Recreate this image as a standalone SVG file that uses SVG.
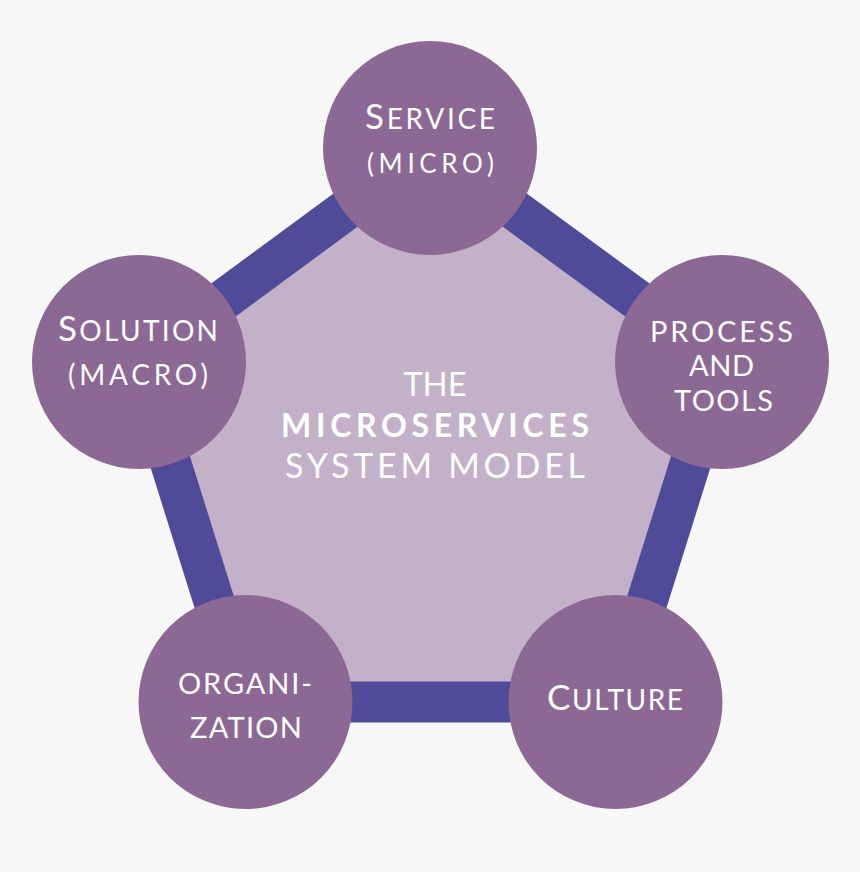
<svg xmlns="http://www.w3.org/2000/svg" width="860" height="872" viewBox="0 0 860 872">
<style>
.node circle{fill:#8c6894}
text{font-family:Lato,"Open Sans","Liberation Sans",sans-serif;fill:#ffffff;text-anchor:middle}
.t{font-size:29px}
.big{font-size:35px}
.sm{font-size:28px}
.ctr{font-size:34px}
</style>
<rect width="860" height="872" fill="#f7f7f7"/>
<g id="connectors">
<path id="pentagon" d="M430,148 L722,362 L615.5,702 L245.5,702 L139,362 Z" fill="#c3b0c9" stroke="#504b99" stroke-width="41" stroke-linejoin="miter"/>
</g>
<g id="center-title">
<text x="435" y="396" font-size="33">THE</text>
<text x="435" y="437" font-size="32" font-weight="bold" textLength="308">MICROSERVICES</text>
<text class="ctr" x="435" y="478" textLength="300">SYSTEM MODEL</text>
</g>
<g id="service" class="node">
<circle cx="430" cy="148" r="107"/>
<text x="430" y="129" textLength="130"><tspan class="big">S</tspan><tspan class="sm">ERVICE</tspan></text>
<text x="430.5" y="173" font-size="26" textLength="127">(MICRO)</text>
</g>
<g id="process" class="node">
<circle cx="722" cy="362" r="107"/>
<text class="t" x="721.5" y="342" textLength="143">PROCESS</text>
<text class="t" x="721.5" y="376" textLength="65">AND</text>
<text class="t" x="723.5" y="411" textLength="99">TOOLS</text>
</g>
<g id="culture" class="node">
<circle cx="615.5" cy="702" r="107"/>
<text x="615" y="710" textLength="136"><tspan class="big">C</tspan><tspan class="sm">ULTURE</tspan></text>
</g>
<g id="organization" class="node">
<circle cx="245.5" cy="702" r="107"/>
<text class="t" x="245" y="694" textLength="134">ORGANI-</text>
<text class="t" x="246" y="738" textLength="112">ZATION</text>
</g>
<g id="solution" class="node">
<circle cx="139" cy="362" r="107"/>
<text x="138" y="341" textLength="160"><tspan class="big">S</tspan><tspan class="sm">OLUTION</tspan></text>
<text class="sm" x="138" y="385" textLength="140">(MACRO)</text>
</g>
</svg>
